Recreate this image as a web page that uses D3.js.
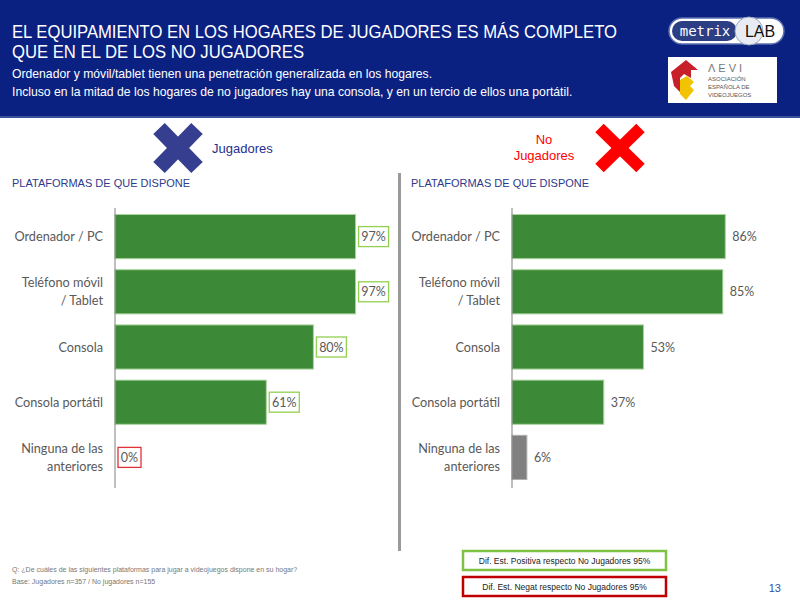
<!DOCTYPE html>
<html>
<head>
<meta charset="utf-8">
<script src="https://cdn.jsdelivr.net/npm/d3@7/dist/d3.min.js"></script>
<style>
  html, body { margin: 0; padding: 0; background: #fff; }
  svg { display: block; }
</style>
</head>
<body>
<svg id="chart" width="800" height="600"></svg>
<script>
// ---- Data ----
const categories = ["Ordenador / PC", "Teléfono móvil\n/ Tablet", "Consola", "Consola portátil", "Ninguna de las\nanteriores"];
const jugadoresValues = [97, 97, 80, 61, 0];
const noJugadoresValues = [86, 85, 53, 37, 6];
const jugadoresSignif = ["pos", "pos", "pos", "pos", "neg"];
const noJugadoresBarType = ["main", "main", "main", "main", "none"];
const titleLines = ["EL EQUIPAMIENTO EN LOS HOGARES DE JUGADORES ES MÁS COMPLETO", "QUE EN EL DE LOS NO JUGADORES"];
const subtitleLines = ["Ordenador y móvil/tablet tienen una penetración generalizada en los hogares.", "Incluso en la mitad de los hogares de no jugadores hay una consola, y en un tercio de ellos una portátil."];
const footLines = ["Q:  ¿De cuáles de las siguientes plataformas para jugar a videojuegos dispone en su hogar?", "Base:  Jugadores n=357 / No jugadores n=155"];
const legendLabels = ["Dif. Est. Positiva respecto No Jugadores 95%", "Dif. Est. Negat respecto No Jugadores 95%"];

const svg = d3.select("#chart");
const SANS = "'Liberation Sans', Arial, sans-serif";
const CAT = "Lato, 'Open Sans', sans-serif";

// ---- Header ----
svg.append("rect").attr("x", 0).attr("y", 0).attr("width", 800).attr("height", 117).attr("fill", "#0b2182");
svg.append("rect").attr("x", 0).attr("y", 116).attr("width", 800).attr("height", 2).attr("fill", "#3b4f9a");
const titleWidths = [605, 292];
titleLines.forEach((t, i) => {
  svg.append("text").attr("x", 12).attr("y", 38 + i * 20).attr("fill", "#fff")
    .attr("font-family", SANS).attr("font-size", 18)
    .attr("textLength", titleWidths[i]).attr("lengthAdjust", "spacingAndGlyphs").text(t);
});
subtitleLines.forEach((t, i) => {
  svg.append("text").attr("x", 12).attr("y", 78 + i * 18).attr("fill", "#fff")
    .attr("font-family", SANS).attr("font-size", 12.2).text(t);
});

// metrixLAB logo
const ml = svg.append("g");
ml.append("rect").attr("x", 669).attr("y", 18).attr("width", 115).attr("height", 26).attr("rx", 13)
  .attr("fill", "#fff").attr("stroke", "#5b6fae").attr("stroke-width", 1.5);
ml.append("rect").attr("x", 672).attr("y", 21).attr("width", 65).attr("height", 20).attr("rx", 10).attr("fill", "#2c3e84");
ml.append("text").attr("x", 705).attr("y", 36).attr("text-anchor", "middle").attr("fill", "#fff")
  .attr("font-family", "'DejaVu Sans Mono', monospace").attr("font-size", 14).text("metrix");
ml.append("circle").attr("cx", 749).attr("cy", 31).attr("r", 14).attr("fill", "#e8ecf2").attr("stroke", "#9aa6c0");
ml.append("text").attr("x", 760).attr("y", 37).attr("text-anchor", "middle").attr("fill", "#111")
  .attr("font-family", SANS).attr("font-size", 16).text("LAB");

// AEVI logo
const ae = svg.append("g");
ae.append("rect").attr("x", 668).attr("y", 57).attr("width", 109).attr("height", 46).attr("fill", "#fff");
ae.append("path").attr("d", "M671,72 L686,60 L698,70 L691,70 L691,78 L684,74 L680,78 L680,92 L674,86 Z").attr("fill", "#c8202a");
ae.append("path").attr("d", "M680,80 L687,76 L694,82 L690,86 L694,90 L686,100 L680,94 Z").attr("fill", "#f2c300");
ae.append("text").attr("x", 708).attr("y", 72).attr("fill", "#777").attr("font-family", SANS).attr("font-size", 11)
  .attr("letter-spacing", 3).text("ΛEVI");
["ASOCIACIÓN", "ESPAÑOLA DE", "VIDEOJUEGOS"].forEach((t, i) => {
  ae.append("text").attr("x", 708).attr("y", 81 + i * 8).attr("fill", "#555").attr("font-family", SANS)
    .attr("font-size", 6).text(t);
});

// ---- Group headers ----
function drawX(cx, cy, w, h, thick, color) {
  const g = svg.append("g").attr("transform", `translate(${cx},${cy})`);
  const ang = Math.atan2(h, w) * 180 / Math.PI;
  const len = Math.sqrt(w * w + h * h);
  g.append("rect").attr("x", -len / 2).attr("y", -thick / 2).attr("width", len).attr("height", thick)
    .attr("fill", color).attr("transform", `rotate(${ang})`);
  g.append("rect").attr("x", -len / 2).attr("y", -thick / 2).attr("width", len).attr("height", thick)
    .attr("fill", color).attr("transform", `rotate(${-ang})`);
}
drawX(178, 148, 38, 39, 16, "#363f8f");
svg.append("text").attr("x", 212).attr("y", 153).attr("fill", "#1f2f8f").attr("font-family", SANS)
  .attr("font-size", 13).attr("font-weight", 500).text("Jugadores");
drawX(620, 148, 41, 40, 12, "#ff0000");
["No", "Jugadores"].forEach((t, i) => {
  svg.append("text").attr("x", 544).attr("y", 144 + i * 16).attr("text-anchor", "middle").attr("fill", "#ff0000")
    .attr("font-family", SANS).attr("font-size", 13).text(t);
});

svg.append("text").attr("x", 12).attr("y", 187).attr("fill", "#2e3a8c").attr("font-family", SANS)
  .attr("font-size", 11).text("PLATAFORMAS DE QUE DISPONE");
svg.append("text").attr("x", 411).attr("y", 187).attr("fill", "#2e3a8c").attr("font-family", SANS)
  .attr("font-size", 11).text("PLATAFORMAS DE QUE DISPONE");

// divider
svg.append("rect").attr("x", 398).attr("y", 173).attr("width", 3).attr("height", 378).attr("fill", "#9a9a9a");

// ---- Charts ----
const y = d3.scaleBand().domain(categories).range([209, 485]).paddingInner(0.2).paddingOuter(0.1);

function drawChart(x0, values, opts) {
  const x = d3.scaleLinear().domain([0, 100]).range([x0, x0 + 248]);
  const g = svg.append("g");
  // category labels
  categories.forEach(c => {
    const lines = c.split("\n");
    const cy = y(c) + y.bandwidth() / 2;
    lines.forEach((l, i) => {
      g.append("text").attr("x", x0 - 12).attr("y", cy + 4.5 + (i - (lines.length - 1) / 2) * 18)
        .attr("text-anchor", "end").attr("fill", "#595959").attr("font-family", CAT).attr("font-size", 12.7)
        .text(l);
    });
  });
  // bars
  g.selectAll("rect.bar").data(values).enter().append("rect")
    .attr("class", "bar")
    .attr("x", x(0)).attr("y", (d, i) => y(categories[i]))
    .attr("width", d => x(d) - x(0)).attr("height", y.bandwidth())
    .attr("fill", (d, i) => opts.barColor(i))
    .attr("stroke", (d, i) => d > 0 ? opts.barStroke(i) : "none").attr("stroke-width", 1);
  // axis
  const axis = d3.axisLeft(y).tickSize(0).tickFormat("");
  const ag = g.append("g").attr("transform", `translate(${x0},0)`).call(axis);
  ag.select(".domain").attr("stroke", "#808080").attr("d", `M0,208V488`);
  // value labels
  values.forEach((v, i) => {
    const cy = y(categories[i]) + y.bandwidth() / 2;
    const lbl = v + "%";
    if (opts.boxed) {
      const bx = x(v) + 3;
      const bw = v >= 10 ? 30 : 23;
      g.append("rect").attr("x", bx).attr("y", cy - 10).attr("width", bw).attr("height", 20)
        .attr("fill", "#fff").attr("stroke", opts.boxColor(i)).attr("stroke-width", 1.3);
      g.append("text").attr("x", bx + bw / 2).attr("y", cy + 4.5).attr("text-anchor", "middle")
        .attr("fill", "#595959").attr("font-family", CAT).attr("font-size", 12.5).text(lbl);
    } else {
      g.append("text").attr("x", x(v) + 7).attr("y", cy + 4.5)
        .attr("fill", "#595959").attr("font-family", CAT).attr("font-size", 12.5).text(lbl);
    }
  });
}

drawChart(115, jugadoresValues, {
  barColor: () => "#3c8a37",
  barStroke: () => "#a9d39a",
  boxed: true,
  boxColor: i => jugadoresSignif[i] === "pos" ? "#92d050" : "#e0303a"
});
drawChart(512, noJugadoresValues, {
  barColor: i => noJugadoresBarType[i] === "main" ? "#3c8a37" : "#808080",
  barStroke: i => noJugadoresBarType[i] === "main" ? "#a9d39a" : "#b0b0b0",
  boxed: false
});

// ---- Footer ----
footLines.forEach((t, i) => {
  svg.append("text").attr("x", 12).attr("y", 572 + i * 12).attr("fill", "#777").attr("font-family", SANS)
    .attr("font-size", 7).text(t);
});
const legColors = ["#7dc243", "#c00000"];
legendLabels.forEach((t, i) => {
  svg.append("rect").attr("x", 463).attr("y", 551 + i * 26).attr("width", 203).attr("height", 19)
    .attr("fill", "#fff").attr("stroke", legColors[i]).attr("stroke-width", 2.5);
  svg.append("text").attr("x", 564.5).attr("y", 564 + i * 26).attr("text-anchor", "middle").attr("fill", "#222")
    .attr("font-family", SANS).attr("font-size", 8.5).text(t);
});
svg.append("text").attr("x", 781).attr("y", 592).attr("text-anchor", "end").attr("fill", "#2f4f9f")
  .attr("font-family", SANS).attr("font-size", 11).text("13");
</script>
</body>
</html>
